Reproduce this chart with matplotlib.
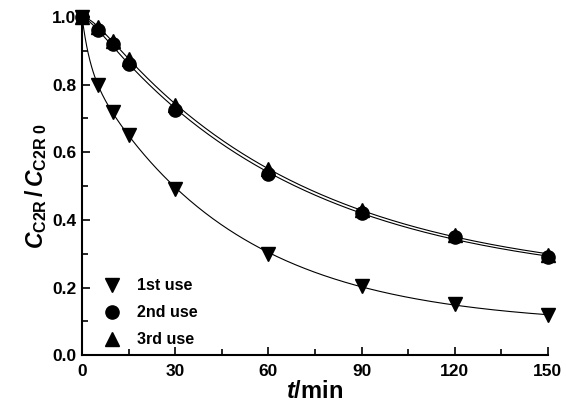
import numpy as np
import matplotlib
matplotlib.use("Agg")
import matplotlib.pyplot as plt

plt.rcParams['font.family'] = ['Liberation Sans', 'DejaVu Sans']
plt.rcParams['font.weight'] = 'bold'
plt.rcParams['mathtext.fontset'] = 'custom'
plt.rcParams['mathtext.rm'] = 'Liberation Sans:bold'
plt.rcParams['mathtext.it'] = 'Liberation Sans:italic:bold'
plt.rcParams['mathtext.bf'] = 'Liberation Sans:bold'

# data
t = np.array([0, 5, 10, 15, 30, 60, 90, 120, 150])
use1 = np.array([1.0, 0.80, 0.72, 0.65, 0.49, 0.30, 0.205, 0.15, 0.12])
use2 = np.array([1.0, 0.96, 0.92, 0.86, 0.725, 0.535, 0.42, 0.35, 0.29])
use3 = np.array([1.0, 0.97, 0.93, 0.875, 0.74, 0.55, 0.43, 0.355, 0.295])
labels = ['1st use', '2nd use', '3rd use']
markers = ['v', 'o', '^']


def biexp_fit(x, y):
    # least squares fit of a*exp(-k1 x) + b*exp(-k2 x) + c, grid over k1, k2
    best = None
    ks = np.logspace(-3.5, 0, 70)
    for i, k1 in enumerate(ks):
        for k2 in ks[i:]:
            A = np.column_stack([np.exp(-k1 * x), np.exp(-k2 * x), np.ones_like(x, dtype=float)])
            coef, *_ = np.linalg.lstsq(A, y, rcond=None)
            err = np.sum((A @ coef - y) ** 2)
            if best is None or err < best[0]:
                best = (err, k1, k2, coef)
    _, k1, k2, coef = best
    return lambda xx: coef[0] * np.exp(-k1 * xx) + coef[1] * np.exp(-k2 * xx) + coef[2]


fig = plt.figure(figsize=(5.66, 4.13), dpi=100)
ax = fig.add_axes([0.145, 0.14, 0.823, 0.819])

tt = np.linspace(0, 150, 300)
for y, lab, m in zip([use1, use2, use3], labels, markers):
    f = biexp_fit(t, y)
    ax.plot(tt, f(tt), color='black', lw=0.8, clip_on=False)
    ax.plot(t, y, linestyle='none', marker=m, color='black', markersize=9.5,
            label=lab, clip_on=False, zorder=3)

ax.set_xlim(0, 150)
ax.set_ylim(0, 1.0)
ax.set_xticks([0, 30, 60, 90, 120, 150])
ax.set_xticks(np.arange(15, 150, 30), minor=True)
ax.set_yticks([0.0, 0.2, 0.4, 0.6, 0.8, 1.0])
ax.set_yticks(np.arange(0.1, 1.0, 0.2), minor=True)
ax.set_yticklabels(['0.0', '0.2', '0.4', '0.6', '0.8', '1.0'])
ax.tick_params(direction='in', length=6, width=1.2, labelsize=12.5, pad=4)
ax.tick_params(axis='x', pad=6)
ax.tick_params(which='minor', direction='in', length=4, width=1.2)
for lbl in ax.get_xticklabels() + ax.get_yticklabels():
    lbl.set_fontweight('bold')

for s in ['top', 'right']:
    ax.spines[s].set_visible(False)
for s in ['left', 'bottom']:
    ax.spines[s].set_linewidth(1.5)

ax.set_xlabel(r'$t$/min', fontsize=17, fontweight='bold', labelpad=1)
ax.set_ylabel(r'$C_{\mathrm{C2R}}\,/\,C_{\mathrm{C2R\ 0}}$', fontsize=16.5, labelpad=2)

ax.legend(loc='lower left', frameon=False, handletextpad=0.6,
          labelspacing=0.75, bbox_to_anchor=(0.005, -0.01), borderaxespad=0.3,
          prop={'weight': 'bold', 'size': 11.5})

fig.savefig('out.png', dpi=100)
